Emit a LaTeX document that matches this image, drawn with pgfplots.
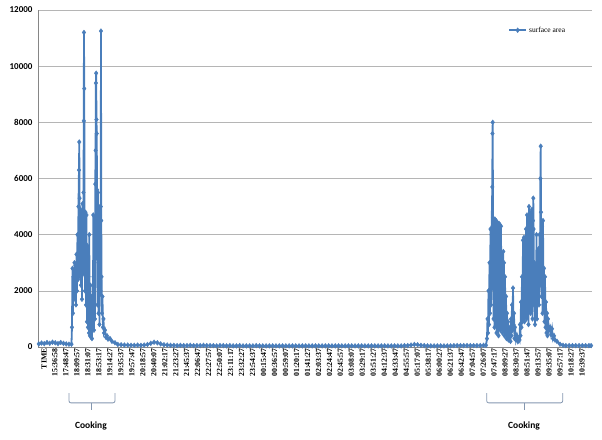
\documentclass[border=0pt]{standalone}
\usepackage{fontspec}
\setmainfont{Liberation Serif}
\newfontfamily\calibri{Carlito}
\usepackage{pgfplots}
\pgfplotsset{compat=1.18}
\definecolor{seriesblue}{HTML}{4A7EBB}
\definecolor{axisgray}{HTML}{868686}
\definecolor{gridgray}{HTML}{B5B5B5}
\definecolor{bracegray}{HTML}{8497B0}

\begin{document}
\begin{tikzpicture}
\path[use as bounding box] (0,0) rectangle (602pt,439pt);
\begin{axis}[
    at={(38pt,92pt)}, anchor=south west,
    scale only axis, width=554pt, height=337pt,
    xmin=-0.27, xmax=50.18, ymin=0, ymax=12000,
    clip=false,
    axis x line*=bottom, axis y line*=left,
    axis line style={axisgray, line width=0.8pt},
    major tick length=0pt,
    ytick={0,2000,4000,6000,8000,10000,12000},
    ymajorgrids, grid style={gridgray, line width=0.6pt},
    scaled y ticks=false,
    /pgf/number format/assume math mode=true,
    yticklabel style={font=\calibri\bfseries\fontsize{9}{10}\selectfont, /pgf/number format/1000 sep={}, xshift=-2pt},
    xtick={0,1,2,3,4,5,6,7,8,9,10,11,12,13,14,15,16,17,18,19,20,21,22,23,24,25,26,27,28,29,30,31,32,33,34,35,36,37,38,39,40,41,42,43,44,45,46,47,48,49},
    xticklabels={TIME,15:36:58,17:48:47,18:09:57,18:31:07,18:53:17,19:14:27,19:35:37,19:57:47,20:18:57,20:40:07,21:02:17,21:23:27,21:45:37,22:06:47,22:27:57,22:50:07,23:11:17,23:32:27,23:54:37,00:15:47,00:36:57,00:59:07,01:20:17,01:41:27,02:03:37,02:24:47,02:45:57,03:08:07,03:29:17,03:51:27,04:12:37,04:33:47,04:55:57,05:17:07,05:38:17,06:00:27,06:21:37,06:42:47,07:04:57,07:26:07,07:47:17,08:09:27,08:30:37,08:51:47,09:13:57,09:35:07,09:57:17,10:18:27,10:39:37},
    xticklabel style={rotate=90, anchor=east, font=\bfseries\fontsize{7.8}{8}\selectfont, inner sep=1pt, yshift=-3pt},
    legend style={draw=none, fill=none, at={(0.843,0.94)}, anchor=west, font=\fontsize{7.5}{8}\selectfont},
    legend cell align=left,
]
\addplot[seriesblue, line width=1.8pt, mark=diamond*, mark size=2.4pt, mark options={solid, line width=0.4pt}]
coordinates {
(-0.20,110) (0.05,140) (0.30,120) (0.55,160) (0.80,130) (1.05,170) (1.30,150) (1.55,120) (1.80,160) (2.05,130) (2.30,110) (2.55,100)
(2.778,100) (2.823,700) (2.869,2800) (2.914,1200) (2.960,2500) (3.005,1700) (3.051,3000) (3.097,1900) (3.142,2900) (3.188,1500)
(3.233,3300) (3.279,2000) (3.324,4000) (3.370,2400) (3.415,5000) (3.461,6300) (3.488,7300) (3.515,5300) (3.552,2500) (3.597,4900)
(3.643,2200) (3.689,4700) (3.734,1700) (3.780,5100) (3.825,2600) (3.871,5500) (3.898,8050) (3.916,11200) (3.944,9200) (3.971,4800)
(4.007,2000) (4.053,4800) (4.098,1500) (4.144,4700) (4.189,900) (4.235,3600) (4.281,700) (4.326,2500) (4.372,500) (4.399,4000)
(4.426,1200) (4.463,400) (4.508,2200) (4.554,350) (4.599,1800) (4.645,300) (4.690,1500) (4.736,700) (4.763,4700) (4.790,2500)
(4.827,600) (4.872,3000) (4.918,1000) (4.945,5800) (4.973,7000) (5.000,9400) (5.027,9750) (5.055,8100) (5.082,7600) (5.100,5600)
(5.146,1500) (5.191,5500) (5.237,1200) (5.282,5000) (5.328,800) (5.373,4700) (5.419,2000) (5.446,5000) (5.464,11250) (5.492,4500)
(5.519,2500) (5.556,1200) (5.601,1800) (5.647,700) (5.692,1000) (5.738,500) (5.829,600) (5.920,350) (6.011,400) (6.102,280)
(6.284,300) (6.466,200) (6.740,150)
(7.0,90) (7.3,80) (7.6,70) (7.9,70) (8.2,60) (8.5,60) (8.8,70) (9.1,60) (9.4,70) (9.7,90) (10.0,130) (10.3,170) (10.6,150)
(10.9,110) (11.2,80) (11.5,70) (11.8,60) (12.1,60) (12.4,50) (12.7,60) (13.0,50) (13.3,50) (13.6,60) (13.9,50) (14.2,50)
(14.5,50) (14.8,60) (15.1,50) (15.4,50) (15.7,50) (16.0,40) (16.3,50) (16.6,50) (16.9,40) (17.2,50) (17.5,40) (17.8,40)
(18.1,50) (18.4,40) (18.7,40) (19.0,40) (19.3,40) (19.6,50) (19.9,40) (20.2,40) (20.5,40) (20.8,40) (21.1,40) (21.4,40)
(21.7,40) (22.0,40) (22.3,40) (22.6,40) (22.9,40) (23.2,40) (23.5,40) (23.8,40) (24.1,40) (24.4,40) (24.7,40) (25.0,40)
(25.3,40) (25.6,40) (25.9,40) (26.2,40) (26.5,40) (26.8,40) (27.1,40) (27.4,40) (27.7,40) (28.0,40) (28.3,40) (28.6,40)
(28.9,40) (29.2,40) (29.5,40) (29.8,40) (30.1,40) (30.4,40) (30.7,40) (31.0,40) (31.3,40) (31.6,40) (31.9,40) (32.2,40)
(32.5,40) (32.8,40) (33.1,50) (33.4,50) (33.7,70) (34.0,90) (34.3,80) (34.6,60) (34.9,50) (35.2,40) (35.5,40) (35.8,40)
(36.1,40) (36.4,40) (36.7,40) (37.0,40) (37.3,40) (37.6,50) (37.9,50) (38.2,50) (38.5,50) (38.8,50) (39.1,50) (39.4,50)
(39.7,50) (40.0,50) (40.3,60)
(40.526,60) (40.617,300) (40.663,1000) (40.708,500) (40.754,2000) (40.799,800) (40.845,3000) (40.890,1200) (40.936,4200)
(40.982,1500) (41.027,4000) (41.100,5700) (41.118,7600) (41.137,8000) (41.164,4600) (41.209,1000) (41.255,4550) (41.300,700)
(41.346,4550) (41.391,1500) (41.437,4500) (41.482,500) (41.528,4450) (41.573,1200) (41.619,4400) (41.665,400) (41.710,4400)
(41.756,800) (41.801,4350) (41.847,600) (41.892,4300) (41.938,1000) (41.983,2500) (42.029,500) (42.074,3000) (42.102,3400)
(42.120,900) (42.165,3000) (42.211,400) (42.256,2500) (42.302,700) (42.348,1800) (42.393,300) (42.439,1200) (42.484,500)
(42.530,900) (42.575,250) (42.621,700) (42.666,400) (42.712,600) (42.757,200) (42.803,1000) (42.848,400) (42.894,1500)
(42.940,600) (42.985,2100) (43.031,800) (43.076,1200) (43.122,300) (43.167,700) (43.258,250) (43.349,400) (43.440,200)
(43.531,300) (43.577,250) (43.623,800) (43.668,400) (43.714,1600) (43.759,700) (43.805,2500) (43.850,900) (43.896,3800)
(43.941,1200) (43.987,3900) (44.032,900) (44.078,2800) (44.123,1500) (44.169,4200) (44.214,1000) (44.260,4700) (44.306,1500)
(44.351,3500) (44.397,800) (44.442,5000) (44.488,1800) (44.533,4800) (44.579,1200) (44.624,4100) (44.670,2000) (44.715,4900)
(44.761,1000) (44.806,4500) (44.834,5300) (44.861,4200) (44.898,1500) (44.943,3000) (44.989,800) (45.034,2500) (45.080,1200)
(45.125,4000) (45.171,1000) (45.216,3000) (45.262,2000) (45.307,3500) (45.353,1500) (45.398,4000) (45.444,2200) (45.480,6000)
(45.508,7150) (45.535,4800) (45.581,1800) (45.626,4300) (45.672,1200) (45.717,4500) (45.763,1500) (45.808,2800) (45.854,900)
(45.899,2500) (45.945,700) (45.990,1600) (46.036,500) (46.081,1200) (46.127,400) (46.172,1000) (46.264,600) (46.355,700)
(46.446,450) (46.537,650) (46.628,300) (46.719,400) (46.810,250) (46.992,200) (47.265,100) (47.539,60)
(47.8,50) (48.1,50) (48.4,50) (48.7,50) (49.0,50) (49.3,50) (49.6,50) (49.9,50) (50.1,50)
};
\addlegendentry{surface area}
\draw[bracegray, line width=0.8pt, rounded corners=2pt]
  (axis cs:2.55,-1640) -- (axis cs:2.55,-1990) -- (axis cs:6.74,-1990) -- (axis cs:6.74,-1640);
\draw[bracegray, line width=0.8pt] (axis cs:4.55,-1990) -- (axis cs:4.55,-2230);
\node[font=\calibri\bfseries\fontsize{9.5}{10}\selectfont] at (axis cs:4.55,-2810) {Cooking};
\draw[bracegray, line width=0.8pt, rounded corners=2pt]
  (axis cs:40.59,-1640) -- (axis cs:40.59,-1990) -- (axis cs:47.51,-1990) -- (axis cs:47.51,-1640);
\draw[bracegray, line width=0.8pt] (axis cs:43.99,-1990) -- (axis cs:43.99,-2230);
\node[font=\calibri\bfseries\fontsize{9.5}{10}\selectfont] at (axis cs:43.99,-2810) {Cooking};
\end{axis}
\end{tikzpicture}
\end{document}
